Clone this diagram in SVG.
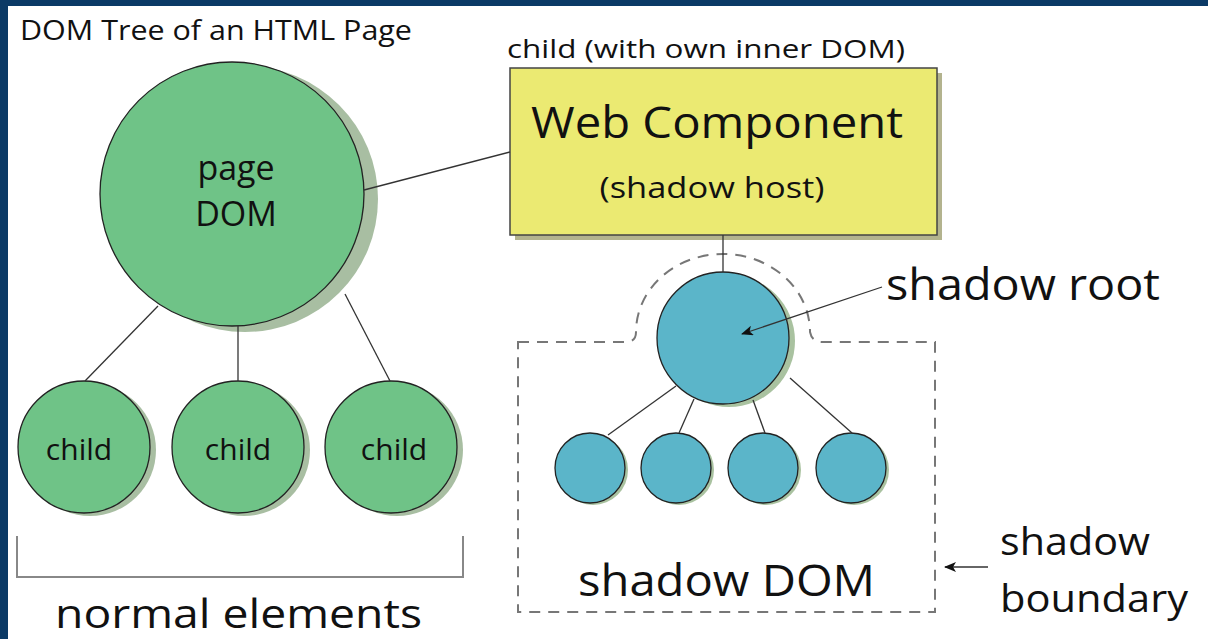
<svg xmlns="http://www.w3.org/2000/svg" width="1208" height="639" viewBox="0 0 1208 639">
<defs>
<style>
text{font-family:"Open Sans","Noto Sans","Liberation Sans",sans-serif;fill:#111}
.g{fill:#6fc387;stroke:#222;stroke-width:1.3}
.gs{fill:#a8bea2}
.b{fill:#5bb5c9;stroke:#222;stroke-width:1.3}
.bs{fill:#a9c2a0}
.ln{stroke:#333;stroke-width:1.3;fill:none}
.dash{stroke:#777;stroke-width:2;fill:none;stroke-dasharray:11 8}
</style>
<marker id="ah" viewBox="0 0 12 10" refX="11" refY="5" markerWidth="12" markerHeight="10" markerUnits="userSpaceOnUse" orient="auto">
<path d="M0,0 L12,5 L0,10 L3,5 Z" fill="#111"/>
</marker>
</defs>
<rect x="0" y="0" width="1208" height="639" fill="#ffffff"/>
<rect x="0" y="0" width="1208" height="6" fill="#0b3a66"/>
<rect x="0" y="0" width="8" height="639" fill="#0b3a66"/>

<text x="20" y="40" font-size="27" textLength="392" lengthAdjust="spacingAndGlyphs">DOM Tree of an HTML Page</text>

<g id="page-dom">
<circle class="gs" cx="245" cy="199" r="133"/>
<circle class="g" cx="232" cy="194" r="132"/>
<text x="236" y="180" font-size="34" text-anchor="middle">page</text>
<text x="236" y="226" font-size="34" text-anchor="middle">DOM</text>
</g>

<g id="child1">
<circle class="gs" cx="90" cy="450" r="66"/>
<circle class="g" cx="84" cy="447" r="66"/>
<text x="79" y="460" font-size="30" text-anchor="middle">child</text>
</g>
<g id="child2">
<circle class="gs" cx="244" cy="450" r="66"/>
<circle class="g" cx="238" cy="447" r="66"/>
<text x="238" y="460" font-size="30" text-anchor="middle">child</text>
</g>
<g id="child3">
<circle class="gs" cx="397" cy="450" r="66"/>
<circle class="g" cx="391" cy="447" r="66"/>
<text x="394" y="460" font-size="30" text-anchor="middle">child</text>
</g>

<g id="normal-elements">
<path d="M17,536 V577 H463 V536" fill="none" stroke="#888" stroke-width="2"/>
<text x="55" y="628" font-size="40" textLength="367" lengthAdjust="spacingAndGlyphs">normal elements</text>
</g>

<g id="web-component">
<text x="507" y="58" font-size="26" textLength="398" lengthAdjust="spacingAndGlyphs">child (with own inner DOM)</text>
<rect x="515" y="73" width="427" height="167" fill="#b3b38e"/>
<rect x="510" y="68" width="427" height="167" fill="#ebea72" stroke="#444" stroke-width="1.5"/>
<text x="717" y="138" font-size="44" text-anchor="middle" textLength="372" lengthAdjust="spacingAndGlyphs">Web Component</text>
<text x="712" y="198" font-size="30" text-anchor="middle" textLength="225" lengthAdjust="spacingAndGlyphs">(shadow host)</text>
</g>

<g id="shadow-boundary">
<path class="dash" d="M518,342 H626 Q636,342 636,332 A87 78 0 0 1 810,332 Q812,342 822,342 H935 V612 H518 Z"/>
<text x="1000" y="555" font-size="38" textLength="150" lengthAdjust="spacingAndGlyphs">shadow</text>
<text x="1000" y="612" font-size="38" textLength="188" lengthAdjust="spacingAndGlyphs">boundary</text>
</g>

<g id="shadow-root">
<circle class="bs" cx="729" cy="341" r="66"/>
<circle class="b" cx="723" cy="338" r="66"/>
<text x="886" y="300" font-size="44" textLength="274" lengthAdjust="spacingAndGlyphs">shadow root</text>
</g>

<g id="shadow-child1"><circle class="bs" cx="593" cy="470" r="35"/><circle class="b" cx="590" cy="468" r="35"/></g>
<g id="shadow-child2"><circle class="bs" cx="679" cy="470" r="35"/><circle class="b" cx="676" cy="468" r="35"/></g>
<g id="shadow-child3"><circle class="bs" cx="766" cy="470" r="35"/><circle class="b" cx="763" cy="468" r="35"/></g>
<g id="shadow-child4"><circle class="bs" cx="854" cy="470" r="35"/><circle class="b" cx="851" cy="468" r="35"/></g>

<text x="578" y="596" font-size="44" textLength="297" lengthAdjust="spacingAndGlyphs">shadow DOM</text>

<g id="connectors">
<line class="ln" x1="364" y1="190" x2="510" y2="152"/>
<line class="ln" x1="158" y1="306" x2="85" y2="381"/>
<line class="ln" x1="238" y1="326" x2="238" y2="381"/>
<line class="ln" x1="345" y1="294" x2="390" y2="381"/>
<line class="ln" x1="723" y1="235" x2="723" y2="272"/>
<line class="ln" x1="676" y1="386" x2="608" y2="435"/>
<line class="ln" x1="694" y1="399" x2="679" y2="433"/>
<line class="ln" x1="753" y1="400" x2="765" y2="433"/>
<line class="ln" x1="790" y1="378" x2="852" y2="433"/>
<line class="ln" x1="882" y1="287" x2="742" y2="334" marker-end="url(#ah)"/>
<line class="ln" x1="988" y1="567" x2="945" y2="567" marker-end="url(#ah)"/>
</g>
</svg>
